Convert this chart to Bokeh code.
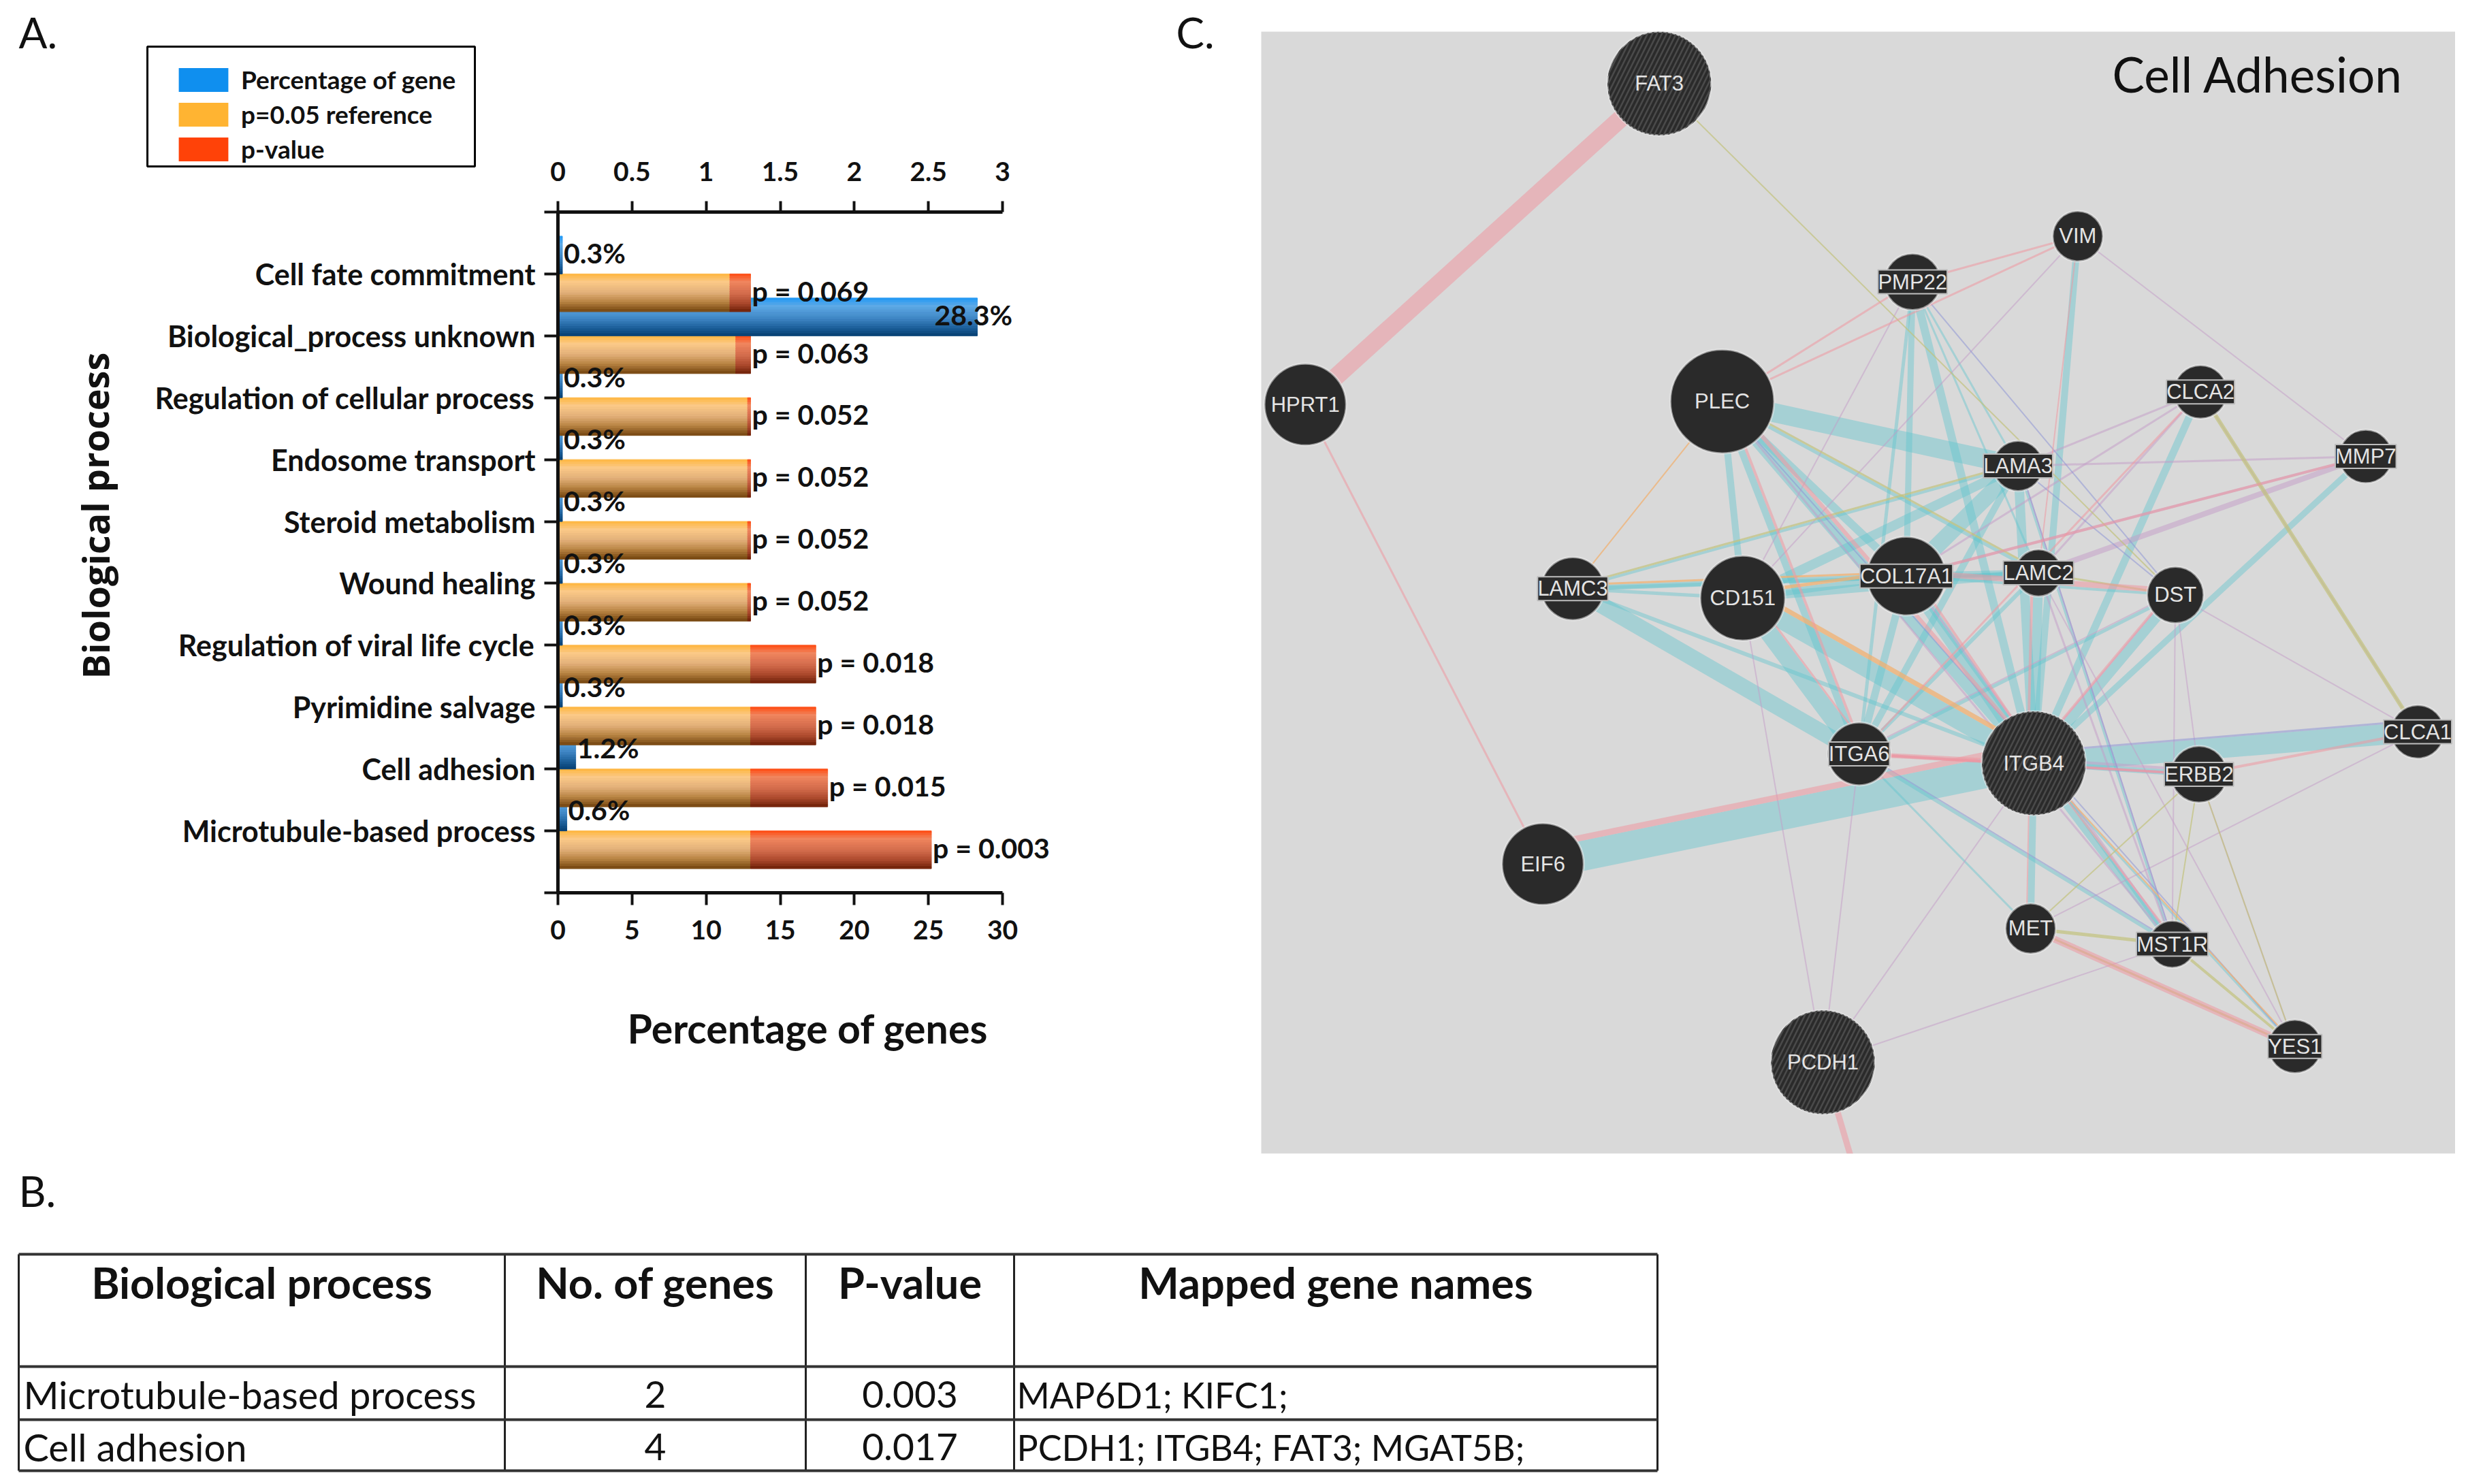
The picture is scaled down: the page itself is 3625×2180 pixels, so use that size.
from bokeh.plotting import figure
from bokeh.layouts import column, row
from bokeh.models import (Range1d, LinearAxis, FixedTicker, ColumnDataSource, LabelSet, Label,
                          Legend, LegendItem, BoxAnnotation)
from bokeh.core.properties import value
from bokeh.embed import file_html
from bokeh.resources import INLINE

# ---------- data : panel A ----------
categories = ["Cell fate commitment", "Biological_process unknown", "Regulation of cellular process",
              "Endosome transport", "Steroid metabolism", "Wound healing",
              "Regulation of viral life cycle", "Pyrimidine salvage", "Cell adhesion",
              "Microtubule-based process"]
gene_pct = [0.3, 28.3, 0.3, 0.3, 0.3, 0.3, 0.3, 0.3, 1.2, 0.6]
gene_pct_labels = ["0.3%", "28.3%", "0.3%", "0.3%", "0.3%", "0.3%", "0.3%", "0.3%", "1.2%", "0.6%"]
neg_log_p = [1.16, 1.20, 1.28, 1.28, 1.28, 1.28, 1.74, 1.74, 1.82, 2.52]
p_labels = ["p = 0.069", "p = 0.063", "p = 0.052", "p = 0.052", "p = 0.052", "p = 0.052",
            "p = 0.018", "p = 0.018", "p = 0.015", "p = 0.003"]
reference_log_p = 1.30
pct_ticks = [0, 5, 10, 15, 20, 25, 30]
log_ticks = [0, 0.5, 1, 1.5, 2, 2.5, 3]
log_tick_labels = {0: "0", 0.5: "0.5", 1: "1", 1.5: "1.5", 2: "2", 2.5: "2.5", 3: "3"}

# ---------- data : panel B ----------
table_headers = ["Biological process", "No. of genes", "P-value", "Mapped gene names"]
table_process = ["Microtubule-based process", "Cell adhesion"]
table_genes = ["2", "4"]
table_p = ["0.003", "0.017"]
table_names = ["MAP6D1; KIFC1;", "PCDH1; ITGB4; FAT3; MGAT5B;"]

# ---------- data : panel C ----------
node_names = ["FAT3", "HPRT1", "PLEC", "PMP22", "VIM", "CLCA2", "MMP7", "LAMA3", "LAMC3", "CD151", "COL17A1",
              "LAMC2", "DST", "ITGA6", "ITGB4", "ERBB2", "CLCA1", "EIF6", "MET", "MST1R", "YES1", "PCDH1"]
node_x = [1054, 829, 1094, 1215, 1320, 1398, 1503, 1282, 999, 1107, 1211, 1295, 1382, 1181, 1292, 1397, 1536, 980, 1290, 1380, 1458, 1158]
node_y = [53, 257, 255, 179, 150, 249, 290, 296, 374, 380, 366, 364, 378, 479, 485, 492, 465, 549, 590, 600, 665, 675]
node_r = [33, 26, 33, 18, 16, 17, 17, 16, 20, 27, 25, 15, 18, 20, 33, 18, 17, 26, 16, 15, 17, 33]
hatched_nodes = ["FAT3", "ITGB4", "PCDH1"]

edges_teal = [("PLEC", "LAMA3", 28), ("EIF6", "ITGB4", 44), ("LAMC3", "ITGA6", 24), ("CD151", "ITGB4", 26),
              ("CD151", "ITGA6", 26), ("COL17A1", "ITGB4", 18), ("PLEC", "ITGB4", 16), ("PLEC", "COL17A1", 12),
              ("PLEC", "CD151", 10), ("LAMA3", "COL17A1", 24), ("LAMA3", "CD151", 14), ("LAMC2", "CD151", 12),
              ("LAMC2", "COL17A1", 10), ("LAMC3", "COL17A1", 8), ("LAMC3", "LAMC2", 5), ("PMP22", "ITGB4", 12),
              ("PMP22", "COL17A1", 9), ("PMP22", "ITGA6", 5), ("VIM", "ITGB4", 10), ("CLCA2", "ITGB4", 11),
              ("MMP7", "ITGB4", 9), ("DST", "ITGB4", 14), ("ITGB4", "CLCA1", 30), ("ITGB4", "ERBB2", 8),
              ("ITGB4", "MET", 10), ("ITGB4", "MST1R", 9), ("ITGB4", "YES1", 3), ("LAMA3", "ITGB4", 14),
              ("LAMC2", "ITGB4", 14), ("ITGA6", "COL17A1", 11), ("ITGA6", "LAMA3", 10), ("ITGA6", "MST1R", 5),
              ("ITGA6", "MET", 3), ("PLEC", "ITGA6", 10), ("PMP22", "LAMA3", 3), ("COL17A1", "DST", 4),
              ("ITGA6", "LAMC2", 6), ("PMP22", "LAMC2", 3), ("DST", "ITGA6", 5), ("CD151", "LAMC3", 5),
              ("CD151", "COL17A1", 10), ("PLEC", "LAMC2", 5), ("LAMC3", "LAMA3", 4), ("LAMC3", "ITGB4", 6),
              ("COL17A1", "MST1R", 4), ("LAMA3", "MST1R", 3)]
edges_pink = [("FAT3", "HPRT1", 26), ("HPRT1", "EIF6", 3), ("EIF6", "ITGB4", 9), ("ITGA6", "ITGB4", 7),
              ("COL17A1", "ITGB4", 4), ("PLEC", "ITGB4", 6), ("PLEC", "ITGA6", 4), ("MET", "YES1", 10),
              ("COL17A1", "DST", 8), ("PCDH1", "OFF", 9), ("PLEC", "PMP22", 3), ("PLEC", "VIM", 3),
              ("PMP22", "VIM", 3), ("MMP7", "COL17A1", 4), ("CLCA1", "ERBB2", 4), ("DST", "ITGB4", 4),
              ("LAMC2", "ITGB4", 4), ("ITGA6", "ERBB2", 4), ("VIM", "LAMC2", 2), ("CLCA2", "ITGA6", 3),
              ("ERBB2", "ITGA6", 2), ("ITGB4", "MST1R", 3), ("MET", "ITGB4", 2), ("CD151", "ITGA6", 3)]
edges_purple = [("CD151", "PCDH1", 2), ("ITGB4", "PCDH1", 2), ("ITGA6", "PCDH1", 2), ("MST1R", "PCDH1", 2),
                ("VIM", "MMP7", 2), ("VIM", "CD151", 2), ("PMP22", "CD151", 2), ("CLCA2", "LAMA3", 3),
                ("CLCA2", "COL17A1", 3), ("CLCA2", "LAMC2", 3), ("MMP7", "LAMC2", 8), ("MMP7", "LAMA3", 3),
                ("MMP7", "COL17A1", 4), ("DST", "CLCA1", 2), ("CLCA2", "CLCA1", 2), ("ITGA6", "DST", 2),
                ("ITGA6", "ERBB2", 4), ("ITGB4", "ERBB2", 4), ("CLCA1", "MET", 2), ("ITGB4", "DST", 2),
                ("COL17A1", "MST1R", 3), ("LAMA3", "MST1R", 2), ("PLEC", "MST1R", 3), ("LAMC2", "YES1", 2),
                ("ERBB2", "YES1", 2), ("DST", "ERBB2", 2), ("DST", "MST1R", 2), ("LAMC2", "MST1R", 3)]
edges_blue = [("PMP22", "DST", 2), ("LAMA3", "DST", 2), ("ITGA6", "MST1R", 2), ("ITGB4", "CLCA1", 3),
              ("LAMA3", "MST1R", 2), ("PLEC", "YES1", 2)]
edges_olive = [("FAT3", "DST", 2), ("CLCA2", "CLCA1", 6), ("LAMC3", "LAMA3", 3),
               ("MET", "MST1R", 5), ("MET", "ERBB2", 2), ("ERBB2", "YES1", 2), ("ERBB2", "MST1R", 2),
               ("MST1R", "YES1", 4), ("PLEC", "LAMC2", 3), ("LAMC2", "DST", 3), ("MET", "YES1", 3)]
edges_orange = [("CD151", "ITGB4", 7), ("LAMC3", "COL17A1", 3), ("LAMC3", "PLEC", 2), ("CD151", "COL17A1", 5),
                ("ITGB4", "YES1", 2)]
off_frame_partner = (1186, 770)

# ---------- colours ----------
blue_ramp = [(0, "#1E98F5"), (.22, "#5DA9E6"), (.55, "#3F86C4"), (.8, "#1C5F9A"), (1, "#063F72")]
orange_ramp = [(0, "#FFB53C"), (.22, "#FBC987"), (.5, "#E2B07A"), (.75, "#B98443"), (1, "#74450F")]
red_ramp = [(0, "#FF4A10"), (.22, "#F0855E"), (.55, "#D0694A"), (.8, "#A8462A"), (1, "#6E2008")]
GREY = "#D9D9D9"
edge_styles = {"teal": ("#5CC4CE", .42), "pink": ("#EE98A0", .55), "purple": ("#C49CC8", .5),
               "blue": ("#8E96D6", .55), "olive": ("#C2C27C", .7), "orange": ("#F0B070", .75)}
TXT = "#111111"
BOLD = value("Lato")


def ramp(stops, f):
    for (a, ca), (b, cb) in zip(stops, stops[1:]):
        if f <= b:
            t = (f - a) / (b - a)
            rgb = [round(int(ca[i:i + 2], 16) * (1 - t) + int(cb[i:i + 2], 16) * t) for i in (1, 3, 5)]
            return "#%02X%02X%02X" % tuple(rgb)
    return stops[-1][1]


# ---------- panel A ----------
A_W, A_H = 1852, 1700
PX0, PX30 = 819, 1472        # pixel place of the value axis ends
PY0, PY11 = 311, 1311
ux = (PX30 - PX0) / 30
uy = (PY11 - PY0) / 11
pa = figure(width=A_W, height=A_H, output_backend="svg", toolbar_location=None,
            x_range=Range1d(-PX0 / ux, (A_W - PX0) / ux), y_range=Range1d((A_H - PY0) / uy, -PY0 / uy),
            min_border=0, outline_line_color=None, x_axis_type=None, y_axis_type=None, frame_align=False)
pa.grid.visible = False
pa.extra_x_ranges["logp"] = Range1d(-PX0 / ux / 10, (A_W - PX0) / ux / 10)

AX = dict(axis_line_color=TXT, axis_line_width=5, major_tick_line_color=TXT, major_tick_line_width=4,
          minor_tick_line_color=None, major_tick_in=0, major_label_text_font="Lato",
          major_label_text_font_style="bold", major_label_text_color=TXT)
below = LinearAxis(ticker=FixedTicker(ticks=pct_ticks), major_tick_out=18, major_label_standoff=22,
                   major_label_text_font_size="39px", bounds=(0, 30), fixed_location=11, **AX)
above = LinearAxis(x_range_name="logp", ticker=FixedTicker(ticks=log_ticks), major_tick_out=16,
                   major_label_overrides=log_tick_labels, major_label_standoff=30,
                   major_label_text_font_size="39px", bounds=(0, 3), fixed_location=0, **AX)
yticks = list(range(len(categories) + 2))
left = LinearAxis(ticker=FixedTicker(ticks=yticks), major_tick_out=20, major_label_standoff=13, bounds=(0, 11),
                  fixed_location=0,
                  major_label_overrides={**{i + 1: c for i, c in enumerate(categories)}, 0: "", len(categories) + 1: ""},
                  major_label_text_font_size="43px", **AX)
pa.add_layout(below, "below")
pa.add_layout(above, "above")
pa.add_layout(left, "left")

BAR = 0.61
STRIPS = 16
ticks = [i + 1 for i in range(len(categories))]
for k in range(STRIPS):
    f0, f1 = k / STRIPS, (k + 1) / STRIPS
    fm = (f0 + f1) / 2
    pa.quad(left=[0] * len(ticks), right=gene_pct,
            top=[t - BAR + BAR * f0 for t in ticks], bottom=[t - BAR + BAR * f1 for t in ticks],
            fill_color=ramp(blue_ramp, fm), line_color=ramp(blue_ramp, fm), line_width=1)
    pa.quad(left=[0] * len(ticks), right=[min(v, reference_log_p) for v in neg_log_p],
            top=[t + BAR * f0 for t in ticks], bottom=[t + BAR * f1 for t in ticks],
            fill_color=ramp(orange_ramp, fm), line_color=ramp(orange_ramp, fm), line_width=1, x_range_name="logp")
    pa.quad(left=[min(v, reference_log_p) for v in neg_log_p], right=[max(v, reference_log_p) for v in neg_log_p],
            top=[t + BAR * f0 for t in ticks], bottom=[t + BAR * f1 for t in ticks],
            fill_color=ramp(red_ramp, fm), line_color=ramp(red_ramp, fm), line_width=1, x_range_name="logp")

pct_src = ColumnDataSource(dict(x=gene_pct, y=[t - BAR / 2 for t in ticks], text=gene_pct_labels,
                                dx=[-63 if v > 20 else 2 for v in gene_pct]))
pa.add_layout(LabelSet(x="x", y="y", text="text", source=pct_src, x_offset="dx", y_offset=3, text_align="left",
                       text_baseline="middle", text_font_size="41px", text_font=BOLD, text_font_style="bold",
                       text_color=TXT))
p_src = ColumnDataSource(dict(x=[max(v, reference_log_p) for v in neg_log_p], y=[t + BAR / 2 for t in ticks], text=p_labels))
pa.add_layout(LabelSet(x="x", y="y", text="text", source=p_src, x_offset=2, y_offset=3, x_range_name="logp",
                       text_align="left", text_baseline="middle", text_font_size="41px", text_font=BOLD,
                       text_font_style="bold", text_color=TXT))

# zero-sized quads: they only carry the legend swatch colours
sw_b = pa.quad(left=[0], right=[0], top=[0], bottom=[0], fill_color="#0F8FEF", line_color=None)
sw_o = pa.quad(left=[0], right=[0], top=[0], bottom=[0], fill_color="#FFB432", line_color=None)
sw_r = pa.quad(left=[0], right=[0], top=[0], bottom=[0], fill_color="#FF4208", line_color=None)
pa.add_layout(BoxAnnotation(left=216, right=697, top=A_H - 68, bottom=A_H - 244, left_units="screen",
                            right_units="screen", top_units="screen", bottom_units="screen", fill_color=None,
                            fill_alpha=0, line_color="#000000", line_alpha=1, line_width=3))
legend = Legend(items=[LegendItem(label="Percentage of gene", renderers=[sw_b]),
                       LegendItem(label="p=0.05 reference", renderers=[sw_o]),
                       LegendItem(label="p-value", renderers=[sw_r])],
                location=(253, A_H - 241), margin=0, padding=0, spacing=6, glyph_width=91, glyph_height=44,
                label_height=44, label_standoff=10, label_text_font="Lato", label_text_font_style="bold",
                label_text_font_size="37px", label_text_color=TXT, border_line_color=None, background_fill_color=None,
                background_fill_alpha=0)
pa.add_layout(legend)


def screen_label(fig, text, x, y, size, style="normal", font="Lato", angle=0, align="left", baseline="middle"):
    fig.add_layout(Label(x=x, y=A_H - y, x_units="screen", y_units="screen", text=text, text_font=font,
                         text_font_size=size, text_font_style=style, text_color=TXT, angle=angle,
                         text_align=align, text_baseline=baseline))


screen_label(pa, "A.", 27, 46, "62px")
screen_label(pa, "C.", 1727, 46, "62px")
screen_label(pa, "Biological process", 139, 757, "54px", "bold", "Open Sans", angle=1.5708, align="center")
screen_label(pa, "Percentage of genes", 1186, 1510, "59px", "bold", align="center")

# ---------- panel C ----------
pc = figure(width=1754, height=A_H, output_backend="svg", toolbar_location=None,
            x_range=Range1d(801, 1560), y_range=Range1d(733, 20), min_border_left=0, min_border_right=0,
            min_border_top=46, min_border_bottom=6, background_fill_color=GREY, outline_line_color=None,
            x_axis_type=None, y_axis_type=None, frame_align=False)
pc.grid.visible = False
pos = {n: (x, y) for n, x, y in zip(node_names, node_x, node_y)}
pos["OFF"] = off_frame_partner
PX_PER_UNIT = 1754 / 759
teal_width = {frozenset((a, b)): w for a, b, w in edges_teal}


def side_shift(a, b, w, name):
    """Edges that share a node pair with a teal band run beside it, on its upper side."""
    tw = teal_width.get(frozenset((a, b)))
    if name == "teal" or tw is None:
        return 0.0, 0.0
    (xa, ya), (xb, yb) = pos[a], pos[b]
    dx, dy = xb - xa, yb - ya
    n = (dx * dx + dy * dy) ** .5
    nx, ny = dy / n, -dx / n
    if ny > 0:
        nx, ny = -nx, -ny
    d = (tw + w) / 2 / PX_PER_UNIT
    return nx * d, ny * d


for name, edges in [("teal", edges_teal), ("purple", edges_purple), ("blue", edges_blue), ("olive", edges_olive),
                    ("orange", edges_orange), ("pink", edges_pink)]:
    col, alpha = edge_styles[name]
    shifts = [side_shift(a, b, w, name) for a, b, w in edges]
    src = dict(x0=[pos[e[0]][0] + s[0] for e, s in zip(edges, shifts)],
               y0=[pos[e[0]][1] + s[1] for e, s in zip(edges, shifts)],
               x1=[pos[e[1]][0] + s[0] for e, s in zip(edges, shifts)],
               y1=[pos[e[1]][1] + s[1] for e, s in zip(edges, shifts)],
               w=[e[2] for e in edges])
    pc.segment("x0", "y0", "x1", "y1", source=ColumnDataSource(src), line_color=col, line_alpha=alpha, line_width="w")

node_src = ColumnDataSource(dict(x=node_x, y=node_y, r=node_r))
pc.circle("x", "y", radius="r", source=node_src, fill_color="#2A2A2A", line_color="#F0F0F0", line_width=3, line_alpha=.55)
hi = [i for i, n in enumerate(node_names) if n in hatched_nodes]
pc.circle([node_x[i] for i in hi], [node_y[i] for i in hi], radius=[node_r[i] for i in hi], fill_color=None, fill_alpha=0,
          line_color=None, hatch_pattern="right_diagonal_line", hatch_color="#4A4A4A", hatch_scale=14, hatch_weight=2.5)
FONT_PX = 31
fits = [len(n) * .66 * FONT_PX <= 2 * r * PX_PER_UNIT for n, r in zip(node_names, node_r)]
for keep, styled in [(True, False), (False, True)]:
    idx = [i for i, f in enumerate(fits) if f == keep]
    src = ColumnDataSource(dict(x=[node_x[i] for i in idx], y=[node_y[i] for i in idx], text=[node_names[i] for i in idx]))
    extras = dict(background_fill_color="#2A2A2A", border_line_color="#BDBDBD", border_line_width=2) if styled else {}
    pc.add_layout(LabelSet(x="x", y="y", text="text", source=src, text_color="#E4E4E4", text_align="center",
                           text_baseline="middle", text_font=value("Liberation Sans"),
                           text_font_size=f"{FONT_PX}px", **extras))
pc.text([1527], [47], text=["Cell Adhesion"], text_color=TXT, text_align="right", text_baseline="middle",
        text_font=value("Lato"), text_font_size="71px")

# ---------- panel B ----------
pb = figure(width=2460, height=465, output_backend="svg", toolbar_location=None,
            x_range=Range1d(0, 2460), y_range=Range1d(2165, 1700), min_border=0, outline_line_color=None,
            x_axis_type=None, y_axis_type=None, frame_align=False)
pb.grid.visible = False
col_edges = [27, 741, 1183, 1489, 2434]
row_edges = [1842, 2007, 2085, 2160]
pb.segment(x0=col_edges, x1=col_edges, y0=[row_edges[0]] * 5, y1=[row_edges[-1]] * 5, line_color="#222222", line_width=3)
pb.segment(x0=[col_edges[0]] * 4, x1=[col_edges[-1]] * 4, y0=row_edges, y1=row_edges, line_color="#333333", line_width=4)
centers = [(a + b) / 2 for a, b in zip(col_edges, col_edges[1:])]
pb.text(centers, [1883] * 4, text=table_headers, text_align="center", text_baseline="middle", text_color=TXT,
        text_font=value("Lato"), text_font_style="bold", text_font_size="63px")
rows_y = [2048, 2125]
pb.text([34] * 2, rows_y, text=table_process, text_align="left", text_baseline="middle", text_color=TXT,
        text_font=value("Lato"), text_font_size="56px")
pb.text([centers[1]] * 2, rows_y, text=table_genes, text_align="center", text_baseline="middle", text_color=TXT,
        text_font=value("Lato"), text_font_size="55px")
pb.text([centers[2]] * 2, rows_y, text=table_p, text_align="center", text_baseline="middle", text_color=TXT,
        text_font=value("Lato"), text_font_size="55px")
pb.text([1493] * 2, rows_y, text=table_names, text_align="left", text_baseline="middle", text_color=TXT,
        text_font=value("Lato"), text_font_size="52px")
pb.text([27], [1748], text=["B."], text_align="left", text_baseline="middle", text_color=TXT,
        text_font=value("Lato"), text_font_size="62px")

page = column(row(pa, pc), pb, spacing=0)
open("out.html", "w").write(file_html(page, INLINE))
